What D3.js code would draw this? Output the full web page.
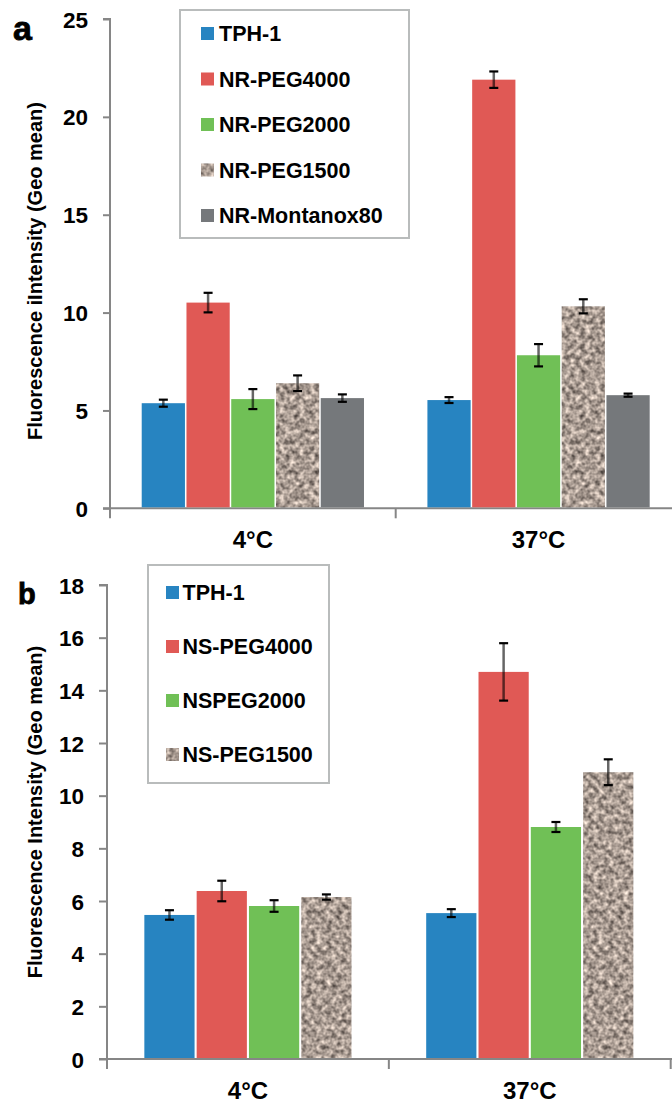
<!DOCTYPE html>
<html>
<head>
<meta charset="utf-8">
<script src="https://cdn.jsdelivr.net/npm/d3@7"></script>
<style>
  html, body { margin: 0; padding: 0; background: #fff; }
  svg { display: block; font-family: "Liberation Sans", Arial, sans-serif; font-weight: bold; }
</style>
</head>
<body>
<svg id="chart" width="672" height="1104"></svg>
<script>
// ---------- data ----------
const categories = ["4°C", "37°C"];

const seriesA = ["TPH-1", "NR-PEG4000", "NR-PEG2000", "NR-PEG1500", "NR-Montanox80"];
const valuesA_4C  = [5.37, 10.51, 5.58, 6.39, 5.63];
const errorsA_4C  = [0.18, 0.50, 0.51, 0.40, 0.19];
const valuesA_37C = [5.53, 21.90, 7.82, 10.32, 5.78];
const errorsA_37C = [0.15, 0.42, 0.57, 0.36, 0.08];
const ticksA = [0, 5, 10, 15, 20, 25];

const seriesB = ["TPH-1", "NS-PEG4000", "NSPEG2000", "NS-PEG1500"];
const valuesB_4C  = [5.47, 6.38, 5.81, 6.15];
const errorsB_4C  = [0.18, 0.39, 0.22, 0.10];
const valuesB_37C = [5.54, 14.70, 8.81, 10.89];
const errorsB_37C = [0.15, 1.09, 0.19, 0.49];
const ticksB = [0, 2, 4, 6, 8, 10, 12, 14, 16, 18];

// ---------- styling ----------
const fills = ["#2784c1", "#e05955", "#70c056", "#a89b91", "#75787b"];
const axisColor = "#868686";

const svg = d3.select("#chart");
const defs = svg.append("defs");

// granite texture via deterministic turbulence filter
const filt = defs.append("filter")
  .attr("id", "graniteFilter")
  .attr("x", 0).attr("y", 0).attr("width", 1).attr("height", 1)
  .attr("color-interpolation-filters", "sRGB");
filt.append("feTurbulence")
  .attr("type", "fractalNoise")
  .attr("baseFrequency", 0.2)
  .attr("numOctaves", 2)
  .attr("seed", 7)
  .attr("result", "noise");
const k = 1.0;
filt.append("feColorMatrix")
  .attr("in", "noise")
  .attr("type", "matrix")
  .attr("values", [
    k, 0, 0, 0, 0.665 - 0.5 * k,
    k * 0.95, 0, 0, 0, 0.612 - 0.5 * k * 0.95,
    k * 0.9, 0, 0, 0, 0.575 - 0.5 * k * 0.9,
    0, 0, 0, 0, 1
  ].join(" "))
  .attr("result", "col");
filt.append("feComposite")
  .attr("in", "col")
  .attr("in2", "SourceGraphic")
  .attr("operator", "in");

function drawPanel(opts) {
  const { series, vals, errs, ticks, yMax, y0px, yTopPx, xLeft, xRight,
          groupFrac, innerPad, letter, letterPos, letterSize, title, titleCenter,
          legendBox, legendRows, legendSq, legendTextX, tickLen } = opts;
  const g = svg.append("g");

  const x0 = d3.scaleBand().domain(categories).range([xLeft, xRight]).padding(0);
  const bw = x0.bandwidth();
  const gw = bw * groupFrac;
  const x1 = d3.scaleBand().domain(series).range([(bw - gw) / 2, (bw + gw) / 2]).paddingInner(innerPad);
  const y = d3.scaleLinear().domain([0, yMax]).range([y0px, yTopPx]);

  // y axis
  const yAxis = d3.axisLeft(y).tickValues(ticks).tickSize(tickLen).tickPadding(15);
  const ya = g.append("g").attr("transform", `translate(${xLeft},0)`).call(yAxis);
  ya.select(".domain").attr("stroke", axisColor).attr("stroke-width", 2)
    .attr("d", `M${-tickLen},${y0px}H0V${yTopPx}H${-tickLen}`);
  ya.selectAll(".tick line").attr("stroke", axisColor).attr("stroke-width", 2);
  ya.selectAll(".tick text").attr("fill", "#000").style("font-size", "22.5px")
    .style("font-weight", "bold").attr("font-family", null).attr("dy", "0.36em");

  // x axis with ticks between categories
  const xa = g.append("g");
  xa.append("line").attr("x1", xLeft).attr("x2", xRight + 10).attr("y1", y0px).attr("y2", y0px)
    .attr("stroke", axisColor).attr("stroke-width", 2);
  const bounds = [xLeft].concat(categories.map(c => x0(c) + bw));
  xa.selectAll("line.tk").data(bounds).enter().append("line").attr("class", "tk")
    .attr("x1", d => d).attr("x2", d => d).attr("y1", y0px).attr("y2", y0px + 10)
    .attr("stroke", axisColor).attr("stroke-width", 2);
  xa.selectAll("text").data(categories).enter().append("text")
    .attr("x", d => x0(d) + bw / 2).attr("y", y0px + 40)
    .attr("text-anchor", "middle").style("font-size", "24px").text(d => d);

  // bars
  categories.forEach((c, ci) => {
    const grp = g.append("g").attr("transform", `translate(${x0(c)},0)`);
    series.forEach((s, si) => {
      const v = vals[ci][si];
      const r = grp.append("rect")
        .attr("x", x1(s)).attr("width", x1.bandwidth())
        .attr("y", y(v)).attr("height", y(0) - y(v) - 1)
        .attr("fill", fills[si]);
      if (si === 3) r.attr("filter", "url(#graniteFilter)");
    });
    // error bars
    series.forEach((s, si) => {
      const v = vals[ci][si], e = errs[ci][si];
      const cx = x1(s) + x1.bandwidth() / 2;
      grp.append("line").attr("x1", cx).attr("x2", cx).attr("y1", y(v + e)).attr("y2", y(v - e))
        .attr("stroke", "#000").attr("stroke-opacity", 0.6).attr("stroke-width", 2.5);
      [v + e, v - e].forEach(t => {
        grp.append("line").attr("x1", cx - 4.5).attr("x2", cx + 4.5).attr("y1", y(t)).attr("y2", y(t))
          .attr("stroke", "#000").attr("stroke-width", 2.2);
      });
    });
  });

  // y title
  g.append("text")
    .attr("transform", `translate(${titleCenter[0]},${titleCenter[1]}) rotate(-90)`)
    .attr("text-anchor", "middle").attr("dy", "0.36em")
    .style("font-size", "20px").text(title);

  // panel letter
  g.append("text").attr("x", letterPos[0]).attr("y", letterPos[1])
    .style("font-size", letterSize + "px").style("stroke", "#000").style("stroke-width", 0.8)
    .text(letter);

  // legend
  g.append("rect").attr("x", legendBox[0]).attr("y", legendBox[1])
    .attr("width", legendBox[2]).attr("height", legendBox[3])
    .attr("fill", "#fff").attr("stroke", "#b9bcbc").attr("stroke-width", 2);
  series.forEach((s, si) => {
    const cy = legendRows[0] + si * legendRows[1];
    const r = g.append("rect").attr("x", legendSq[0]).attr("y", cy - legendSq[1] / 2)
      .attr("width", legendSq[1]).attr("height", legendSq[1]).attr("fill", fills[si]);
    if (si === 3) r.attr("filter", "url(#graniteFilter)");
    g.append("text").attr("x", legendTextX).attr("y", cy).attr("dy", "0.36em")
      .style("font-size", "21.5px").text(s);
  });
}

drawPanel({
  series: seriesA,
  vals: [valuesA_4C, valuesA_37C],
  errs: [errorsA_4C, errorsA_37C],
  ticks: ticksA, yMax: 25, y0px: 508.3, yTopPx: 19,
  xLeft: 110, xRight: 681.4, groupFrac: 0.778, innerPad: 0.034, tickLen: 7,
  letter: "a", letterPos: [13, 40], letterSize: 34,
  title: "Fluorescence iIntensity (Geo mean)", titleCenter: [35, 271],
  legendBox: [180, 10, 229, 228], legendRows: [33.5, 45.5], legendSq: [201, 13], legendTextX: 219
});

drawPanel({
  series: seriesB,
  vals: [valuesB_4C, valuesB_37C],
  errs: [errorsB_4C, errorsB_37C],
  ticks: ticksB, yMax: 18, y0px: 1059, yTopPx: 585,
  xLeft: 107, xRight: 670.7, groupFrac: 0.735, innerPad: 0.04, tickLen: 8,
  letter: "b", letterPos: [18, 604], letterSize: 29,
  title: "Fluorescence Intensity (Geo mean)", titleCenter: [35, 812],
  legendBox: [148, 565, 181, 218], legendRows: [592.5, 54], legendSq: [166, 13], legendTextX: 182.5
});
</script>
</body>
</html>
